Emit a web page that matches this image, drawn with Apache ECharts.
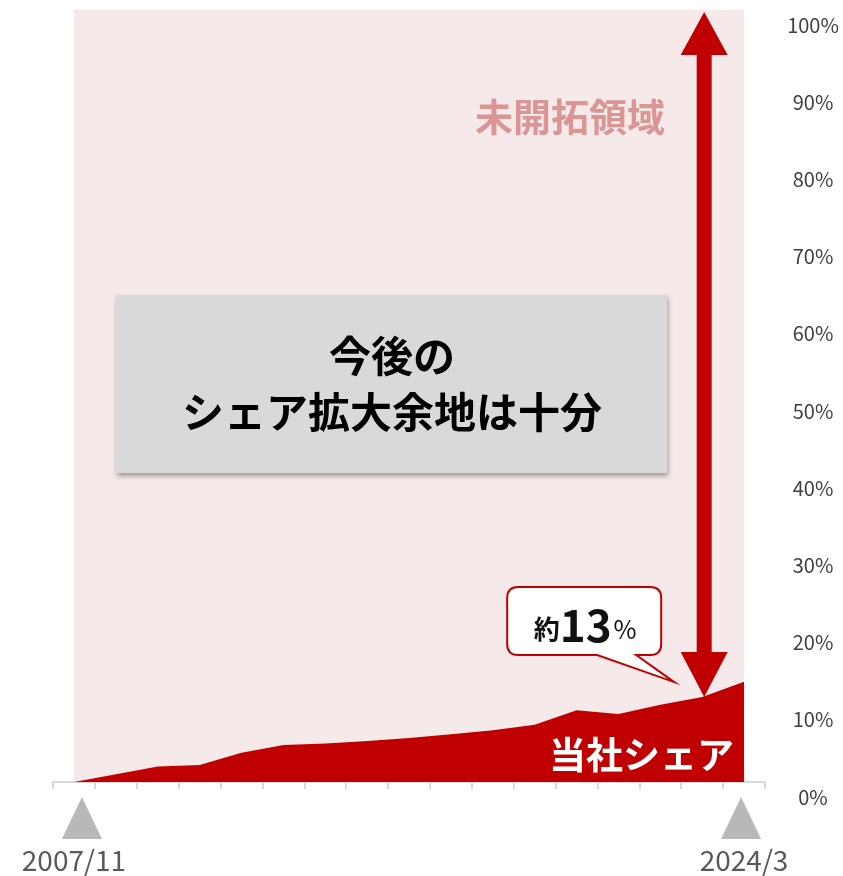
<!DOCTYPE html>
<html>
<head>
<meta charset="utf-8">
<script src="https://cdn.jsdelivr.net/npm/echarts@6/dist/echarts.min.js"></script>
<style>
  html, body { margin: 0; padding: 0; background: #ffffff; }
  #chart { width: 843px; height: 876px; }
</style>
</head>
<body>
<div id="chart"></div>
<script>
// Period labels along the x axis (only the first and the latest are printed)
const periods = ['2007/11', '2009/3', '2010/3', '2011/3', '2012/3', '2013/3', '2014/3', '2015/3',
  '2016/3', '2017/3', '2018/3', '2019/3', '2020/3', '2021/3', '2022/3', '2023/3', '2024/3'];
// Our market share (%)
const shares = [0, 1.0, 2.0, 2.2, 3.8, 4.8, 5.0, 5.3, 5.7, 6.2, 6.7, 7.4, 9.3, 8.8, 10.0, 11.0, 13.0];
// Remaining, untapped part of the market (%)
const untapped = shares.map(v => 100 - v);
// Periods marked with a triangle under the axis
const markedPeriods = ['2007/11', '2024/3'];
// Period where the "room to grow" arrow stands
const arrowPeriod = '2023/3';
const latestShare = shares[shares.length - 1];

const FONT = "'Noto Sans CJK JP', 'Noto Sans', sans-serif";
const RED = '#C00000';

const chart = echarts.init(document.getElementById('chart'), null, { renderer: 'canvas' });

function renderArrow(params, api) {
  const top = api.coord([api.value(0), api.value(2)]);
  const bot = api.coord([api.value(0), api.value(1)]);
  const x = top[0] + 2;
  const hw = 23.5, hl = 45, sw = 7.5;
  const arrowPts = [
    [x, top[1] + 2], [x + hw, top[1] + hl], [x + sw, top[1] + hl],
    [x + sw, bot[1] - hl], [x + hw, bot[1] - hl], [x, bot[1]],
    [x - hw, bot[1] - hl], [x - sw, bot[1] - hl], [x - sw, top[1] + hl],
    [x - hw, top[1] + hl]
  ];
  // speech bubble pointing at the arrow tip
  const tx = x - 30, ty = bot[1] - 15;
  const L = x - 197, R = x - 43, T = bot[1] - 110, B = bot[1] - 42, r = 11;
  const tailL = x - 107, tailR = x - 68;
  const bubble = `M${L + r},${T} H${R - r} Q${R},${T} ${R},${T + r} V${B - r} Q${R},${B} ${R - r},${B} ` +
    `H${tailR} L${tx},${ty} L${tailL},${B} H${L + r} Q${L},${B} ${L},${B - r} V${T + r} Q${L},${T} ${L + r},${T} Z`;
  return {
    type: 'group',
    children: [
      { type: 'polygon', shape: { points: arrowPts }, style: { fill: RED } },
      { type: 'path', shape: { pathData: bubble }, style: { fill: '#ffffff', stroke: RED, lineWidth: 2 } },
      {
        type: 'text',
        style: {
          x: (L + R) / 2 + 1, y: (T + B) / 2 + 4,
          text: `{a|約}{b|${latestShare}}{c|%}`,
          align: 'center', verticalAlign: 'middle',
          rich: {
            a: { fontFamily: FONT, fontSize: 26, fontWeight: 'bold', fill: '#111', padding: [8, 0, 0, 0] },
            b: { fontFamily: FONT, fontSize: 44, fontWeight: 'bold', fill: '#111' },
            c: { fontFamily: FONT, fontSize: 25, fill: '#111', padding: [8, 0, 0, 2] }
          }
        }
      }
    ]
  };
}

// the start marker sits a little right of its tick, the end marker a little left
const markerData = markedPeriods.map((p, i) => ({
  value: [p, 0],
  symbolOffset: [i === 0 ? 8 : -3, 36]
}));

const option = {
  animation: false,
  backgroundColor: '#ffffff',
  grid: { left: 53, right: 78, top: 10, bottom: 94, containLabel: false },
  xAxis: {
    type: 'category',
    data: periods,
    boundaryGap: true,
    axisLine: { show: true, lineStyle: { color: '#d9d9d9', width: 2 } },
    axisTick: { show: true, interval: 0, length: 7, lineStyle: { color: '#d9d9d9', width: 2 } },
    axisLabel: {
      interval: (i, v) => markedPeriods.includes(v),
      margin: 64,
      fontFamily: FONT, fontSize: 28, color: '#595959'
    },
    splitLine: { show: false }
  },
  yAxis: {
    type: 'value',
    position: 'right',
    min: 0, max: 100, interval: 10,
    axisLine: { show: false },
    axisTick: { show: false },
    splitLine: { show: false },
    axisLabel: {
      formatter: '{value}%',
      align: 'center', margin: 48,
      verticalAlign: 'top', lineHeight: 30,
      fontFamily: FONT, fontSize: 20, color: '#404040'
    }
  },
  graphic: [
    {
      type: 'text', z: 50,
      style: { x: 570, y: 117, text: '未開拓領域', align: 'center', verticalAlign: 'middle',
        font: `bold 38px ${FONT}`, fill: '#D99694' }
    },
    {
      type: 'rect', z: 50,
      shape: { x: 116, y: 295, width: 551, height: 178 },
      style: { fill: '#d9d9d9', shadowBlur: 5, shadowOffsetX: 1, shadowOffsetY: 3, shadowColor: 'rgba(0,0,0,0.35)' }
    },
    {
      type: 'text', z: 51,
      style: { x: 392, y: 384, text: '今後の\nシェア拡大余地は十分', align: 'center', verticalAlign: 'middle',
        font: `bold 42px ${FONT}`, lineHeight: 56, fill: '#000000' }
    },
    {
      type: 'text', z: 51,
      style: { x: 734, y: 755, text: '当社シェア', align: 'right', verticalAlign: 'middle',
        font: `bold 37px ${FONT}`, fill: '#ffffff' }
    }
  ],
  series: [
    {
      name: '当社シェア', type: 'line', stack: 'market', data: shares,
      symbol: 'none', lineStyle: { width: 0 },
      areaStyle: { color: RED, opacity: 1 }, z: 3, silent: true
    },
    {
      name: '未開拓領域', type: 'line', stack: 'market', data: untapped,
      symbol: 'none', lineStyle: { width: 0 },
      areaStyle: { color: '#F6E9E9', opacity: 1 }, z: 2, silent: true
    },
    {
      name: 'markers', type: 'scatter',
      data: markerData,
      symbol: 'triangle', symbolSize: [40, 42],
      itemStyle: { color: '#a6a6a6' }, clip: false, silent: true, z: 4
    },
    {
      name: 'room', type: 'custom',
      data: [[periods.indexOf(arrowPeriod), shares[periods.indexOf(arrowPeriod)], 100]],
      renderItem: renderArrow, clip: false, silent: true, z: 10
    }
  ]
};

chart.setOption(option);
</script>
</body>
</html>
